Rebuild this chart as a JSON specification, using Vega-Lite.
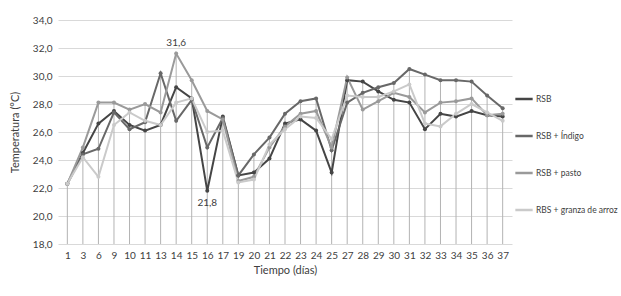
{
  "$schema": "https://vega.github.io/schema/vega-lite/v6.json",
  "width": 454,
  "height": 224,
  "autosize": "none",
  "padding": {"left": 58, "top": 20, "right": 109, "bottom": 52},
  "background": "white",
  "config": {
    "locale": {"number": {"decimal": ",", "thousands": ".", "grouping": [3], "currency": ["", " €"]}},
    "font": "Lato",
    "view": {"stroke": null},
    "axis": {"labelFont": "Lato", "titleFont": "Lato", "labelColor": "#404040", "titleColor": "#404040", "titleFontWeight": "normal"}
  },
  "data": {
    "values": [
      {"d": 1, "RSB": 22.3, "RSB + Índigo": 22.3, "RSB + pasto": 22.3, "RBS + granza de arroz": 22.3},
      {"d": 3, "RSB": 24.5, "RSB + Índigo": 24.4, "RSB + pasto": 24.9, "RBS + granza de arroz": 24.2},
      {"d": 6, "RSB": 26.6, "RSB + Índigo": 24.8, "RSB + pasto": 28.1, "RBS + granza de arroz": 22.8},
      {"d": 9, "RSB": 27.5, "RSB + Índigo": 27.4, "RSB + pasto": 28.1, "RBS + granza de arroz": 26.5},
      {"d": 10, "RSB": 26.5, "RSB + Índigo": 26.2, "RSB + pasto": 27.6, "RBS + granza de arroz": 27.4},
      {"d": 11, "RSB": 26.1, "RSB + Índigo": 26.7, "RSB + pasto": 28.0, "RBS + granza de arroz": 26.8},
      {"d": 13, "RSB": 26.5, "RSB + Índigo": 30.2, "RSB + pasto": 27.4, "RBS + granza de arroz": 26.5},
      {"d": 14, "RSB": 29.2, "RSB + Índigo": 26.8, "RSB + pasto": 31.6, "RBS + granza de arroz": 28.1},
      {"d": 15, "RSB": 28.4, "RSB + Índigo": 28.3, "RSB + pasto": 29.7, "RBS + granza de arroz": 28.4},
      {"d": 16, "RSB": 21.8, "RSB + Índigo": 24.9, "RSB + pasto": 27.5, "RBS + granza de arroz": 26.0},
      {"d": 17, "RSB": 27.1, "RSB + Índigo": 27.0, "RSB + pasto": 26.9, "RBS + granza de arroz": 26.1},
      {"d": 19, "RSB": 22.9, "RSB + Índigo": 22.9, "RSB + pasto": 22.5, "RBS + granza de arroz": 22.4},
      {"d": 20, "RSB": 23.1, "RSB + Índigo": 24.4, "RSB + pasto": 22.8, "RBS + granza de arroz": 22.6},
      {"d": 21, "RSB": 24.1, "RSB + Índigo": 25.6, "RSB + pasto": 24.9, "RBS + granza de arroz": 25.1},
      {"d": 22, "RSB": 26.6, "RSB + Índigo": 27.3, "RSB + pasto": 26.4, "RBS + granza de arroz": 26.2},
      {"d": 23, "RSB": 26.9, "RSB + Índigo": 28.2, "RSB + pasto": 27.3, "RBS + granza de arroz": 27.1},
      {"d": 24, "RSB": 26.1, "RSB + Índigo": 28.4, "RSB + pasto": 27.5, "RBS + granza de arroz": 27.0},
      {"d": 25, "RSB": 23.1, "RSB + Índigo": 24.7, "RSB + pasto": 24.9, "RBS + granza de arroz": 25.5},
      {"d": 27, "RSB": 29.7, "RSB + Índigo": 28.1, "RSB + pasto": 29.9, "RBS + granza de arroz": 28.6},
      {"d": 28, "RSB": 29.6, "RSB + Índigo": 28.8, "RSB + pasto": 27.6, "RBS + granza de arroz": 28.5},
      {"d": 29, "RSB": 28.9, "RSB + Índigo": 29.2, "RSB + pasto": 28.2, "RBS + granza de arroz": 28.5},
      {"d": 30, "RSB": 28.3, "RSB + Índigo": 29.5, "RSB + pasto": 28.8, "RBS + granza de arroz": 28.9},
      {"d": 31, "RSB": 28.1, "RSB + Índigo": 30.5, "RSB + pasto": 28.5, "RBS + granza de arroz": 29.4},
      {"d": 32, "RSB": 26.2, "RSB + Índigo": 30.1, "RSB + pasto": 27.4, "RBS + granza de arroz": 26.6},
      {"d": 33, "RSB": 27.3, "RSB + Índigo": 29.7, "RSB + pasto": 28.1, "RBS + granza de arroz": 26.4},
      {"d": 34, "RSB": 27.1, "RSB + Índigo": 29.7, "RSB + pasto": 28.2, "RBS + granza de arroz": 27.3},
      {"d": 35, "RSB": 27.5, "RSB + Índigo": 29.6, "RSB + pasto": 28.4, "RBS + granza de arroz": 28.0},
      {"d": 36, "RSB": 27.2, "RSB + Índigo": 28.6, "RSB + pasto": 27.2, "RBS + granza de arroz": 27.4},
      {"d": 37, "RSB": 27.1, "RSB + Índigo": 27.7, "RSB + pasto": 27.3, "RBS + granza de arroz": 26.8}
    ]
  },
  "transform": [
    {"fold": ["RSB", "RSB + Índigo", "RSB + pasto", "RBS + granza de arroz"], "as": ["serie", "v"]}
  ],
  "encoding": {
    "x": {
      "field": "d", "type": "ordinal", "sort": "ascending",
      "scale": {"type": "point", "padding": 0.6},
      "axis": {"title": "Tiempo (días)", "labelAngle": 0, "labelFontSize": 10, "titleFontSize": 11, "ticks": false, "domain": false, "grid": false, "labelPadding": 6, "titlePadding": 4}
    }
  },
  "layer": [
    {
      "mark": {"type": "rule", "color": "#b3b3b3", "strokeWidth": 1},
      "encoding": {
        "y": {"aggregate": "max", "field": "v", "type": "quantitative",
          "scale": {"domain": [18, 34], "nice": false, "zero": false},
          "axis": {"title": "Temperatura (°C)", "values": [18, 20, 22, 24, 26, 28, 30, 32, 34], "labelOverlap": false, "format": ".1f", "labelFontSize": 10, "titleFontSize": 11, "ticks": false, "domain": false, "gridColor": "#d9d9d9", "labelPadding": 6, "titlePadding": 12}},
        "y2": {"datum": 18}
      }
    },
    {
      "mark": {"type": "line", "strokeWidth": 2, "point": {"filled": true, "size": 16}},
      "encoding": {
        "y": {"field": "v", "type": "quantitative",
          "axis": {"title": "Temperatura (°C)", "values": [18, 20, 22, 24, 26, 28, 30, 32, 34], "labelOverlap": false, "format": ".1f", "labelFontSize": 10, "titleFontSize": 11, "ticks": false, "domain": false, "gridColor": "#d9d9d9", "labelPadding": 6, "titlePadding": 12}},
        "color": {
          "field": "serie", "type": "nominal",
          "scale": {"domain": ["RSB", "RSB + Índigo", "RSB + pasto", "RBS + granza de arroz"], "range": ["#454545", "#686868", "#9a9a9a", "#cacaca"]},
          "legend": {"title": null, "orient": "none", "legendX": 456, "legendY": 69, "symbolType": "stroke", "symbolStrokeWidth": 2.5, "symbolSize": 300, "labelFontSize": 8.5, "labelLimit": 200, "labelColor": "#404040", "labelFont": "Lato", "rowPadding": 22, "labelOffset": 2}
        }
      }
    },
    {
      "transform": [{"filter": "datum.d == 14 && datum.serie == 'RSB + pasto'"}],
      "mark": {"type": "text", "dy": -11, "fontSize": 10, "color": "#404040", "font": "Lato"},
      "encoding": {"y": {"field": "v", "type": "quantitative",
          "axis": {"title": "Temperatura (°C)", "values": [18, 20, 22, 24, 26, 28, 30, 32, 34], "labelOverlap": false, "format": ".1f", "labelFontSize": 10, "titleFontSize": 11, "ticks": false, "domain": false, "gridColor": "#d9d9d9", "labelPadding": 6, "titlePadding": 12}},
        "text": {"field": "v", "type": "quantitative", "format": ".1f"}}
    },
    {
      "transform": [{"filter": "datum.d == 16 && datum.serie == 'RSB'"}],
      "mark": {"type": "text", "dy": 12, "fontSize": 10, "color": "#404040", "font": "Lato"},
      "encoding": {"y": {"field": "v", "type": "quantitative",
          "axis": {"title": "Temperatura (°C)", "values": [18, 20, 22, 24, 26, 28, 30, 32, 34], "labelOverlap": false, "format": ".1f", "labelFontSize": 10, "titleFontSize": 11, "ticks": false, "domain": false, "gridColor": "#d9d9d9", "labelPadding": 6, "titlePadding": 12}},
        "text": {"field": "v", "type": "quantitative", "format": ".1f"}}
    }
  ]
}
